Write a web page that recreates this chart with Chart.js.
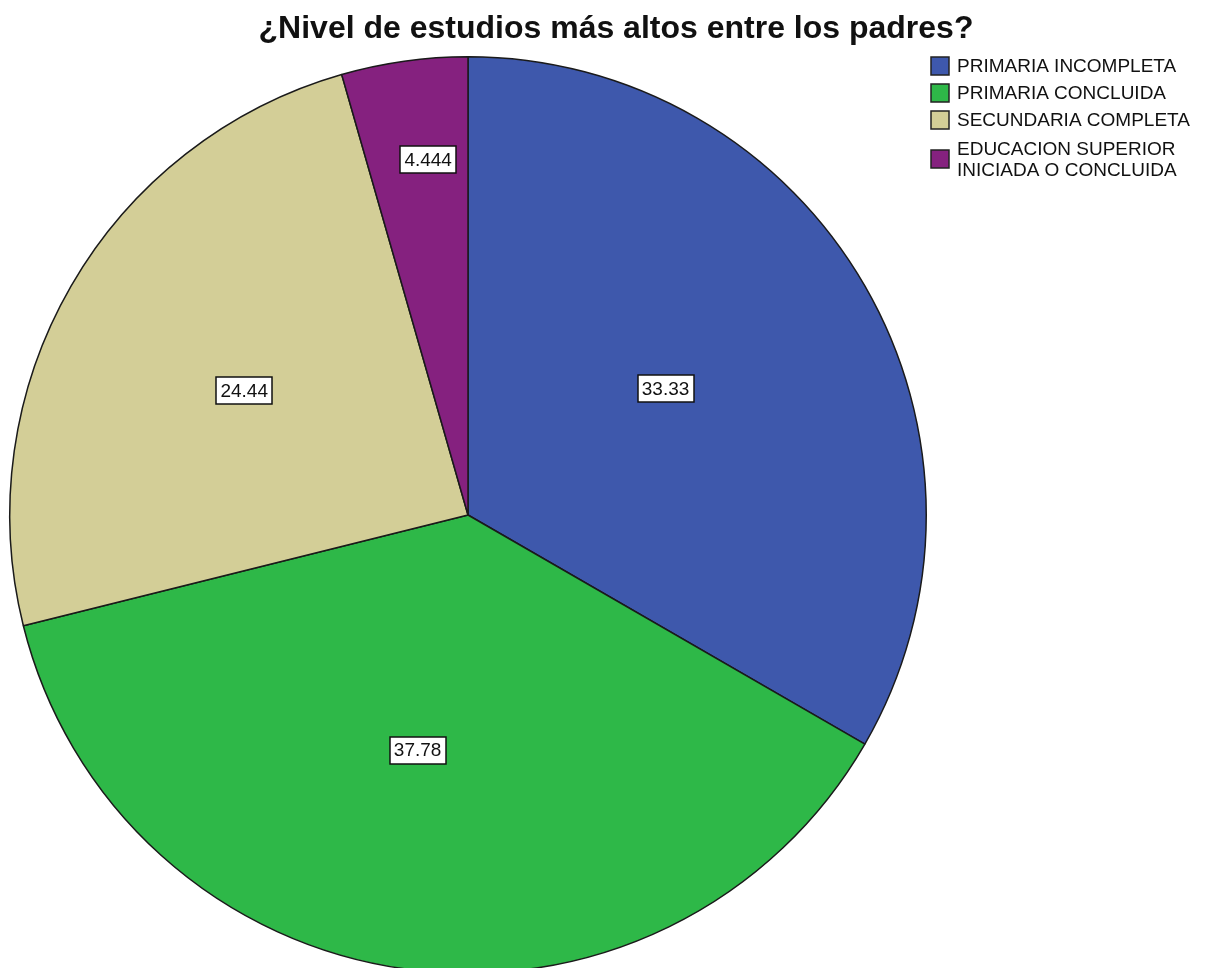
<!DOCTYPE html>
<html>
<head>
<meta charset="utf-8">
<title>Nivel de estudios</title>
<script src="https://cdn.jsdelivr.net/npm/chart.js@4.4.1/dist/chart.umd.min.js"></script>
<style>
  html, body { margin: 0; padding: 0; background: #fff; overflow: hidden; }
  #wrap { position: relative; width: 1207px; height: 980px; }
</style>
</head>
<body>
<div id="wrap"><canvas id="pieChart" width="1207" height="980"></canvas></div>
<script>
/* Nivel de estudios – pie chart */

const chartTitle = "¿Nivel de estudios más altos entre los padres?";
const categories = [
  "PRIMARIA INCOMPLETA",
  "PRIMARIA CONCLUIDA",
  "SECUNDARIA COMPLETA",
  ["EDUCACION SUPERIOR", "INICIADA O CONCLUIDA"],
];
const percentages = [33.33, 37.78, 24.44, 4.444];
const valueLabels = ["33.33", "37.78", "24.44", "4.444"];

const sliceColors = ["#3e58ac", "#2eb848", "#d3ce97", "#85217f"];
// where each value box sits inside its slice (fraction of radius / of slice angle)
const labelRadius = [0.512, 0.525, 0.559, 0.78];
const labelAngle = [0.478, 0.53, 0.49, 0.6];
const FONT = "Arial, 'Liberation Sans', sans-serif";

const overlayPlugin = {
  id: "overlay",
  afterDraw(chart) {
    const ctx = chart.ctx;
    const meta = chart.getDatasetMeta(0);
    ctx.save();

    // value boxes
    ctx.font = "19px " + FONT;
    ctx.textAlign = "center";
    ctx.textBaseline = "middle";
    meta.data.forEach((arc, i) => {
      const ang = arc.startAngle + (arc.endAngle - arc.startAngle) * labelAngle[i];
      const r = arc.outerRadius * labelRadius[i];
      const x = arc.x + Math.cos(ang) * r;
      const y = arc.y + Math.sin(ang) * r;
      const w = Math.round(ctx.measureText(valueLabels[i]).width + 8);
      const h = 27;
      const bx = Math.round(x - w / 2);
      const by = Math.round(y - h / 2);
      ctx.fillStyle = "#fff";
      ctx.fillRect(bx, by, w, h);
      ctx.strokeStyle = "#111";
      ctx.lineWidth = 1.5;
      ctx.strokeRect(bx, by, w, h);
      ctx.fillStyle = "#111";
      ctx.fillText(valueLabels[i], x, y + 1);
    });

    // title
    ctx.font = "bold 32px " + FONT;
    ctx.fillStyle = "#111";
    ctx.fillText(chartTitle, 616, 29);

    // legend
    ctx.font = "19px " + FONT;
    ctx.textAlign = "left";
    const rowY = [66, 93, 120, 159];
    categories.forEach((label, i) => {
      const lines = Array.isArray(label) ? label : [label];
      ctx.fillStyle = sliceColors[i];
      ctx.fillRect(931, rowY[i] - 9, 18, 18);
      ctx.strokeStyle = "#222";
      ctx.lineWidth = 1.5;
      ctx.strokeRect(931, rowY[i] - 9, 18, 18);
      ctx.fillStyle = "#111";
      const start = rowY[i] - ((lines.length - 1) * 21) / 2;
      lines.forEach((ln, j) => ctx.fillText(ln, 957, start + j * 21 + 1));
    });
    ctx.restore();
  },
};

const ctx = document.getElementById("pieChart");
new Chart(ctx, {
  type: "pie",
  data: {
    labels: categories,
    datasets: [
      {
        data: percentages,
        backgroundColor: sliceColors,
        borderColor: "#1a1a1a",
        borderWidth: 1.5,
      },
    ],
  },
  options: {
    responsive: false,
    animation: false,
    layout: { padding: { left: 9, right: 280, top: 56, bottom: 6 } },
    plugins: {
      legend: { display: false },
      title: { display: false },
      tooltip: { enabled: false },
    },
  },
  plugins: [overlayPlugin],
});
</script>
</body>
</html>
